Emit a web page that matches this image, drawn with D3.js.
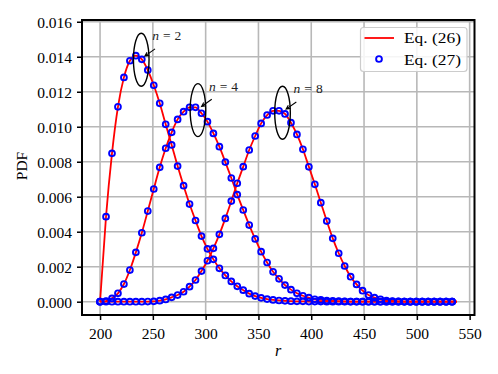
<!DOCTYPE html>
<html>
<head>
<meta charset="utf-8">
<script src="https://cdn.jsdelivr.net/npm/d3@7"></script>
<style>
  html, body { margin: 0; padding: 0; background: #fff; }
  svg { display: block; }
  text { font-family: "Liberation Serif", "DejaVu Serif", serif; }
</style>
</head>
<body>
<svg id="chart" width="498" height="374"></svg>
<script>
// ---------------- data ----------------
const rValues = [200.0, 205.65, 211.3, 216.95, 222.6, 228.25, 233.9, 239.55, 245.2, 250.85,
  256.5, 262.15, 267.8, 273.45, 279.1, 284.75, 290.4, 296.05, 301.7, 307.35,
  313.0, 318.65, 324.3, 329.95, 335.6, 341.25, 346.9, 352.55, 358.2, 363.85,
  369.5, 375.15, 380.8, 386.45, 392.1, 397.75, 403.4, 409.05, 414.7, 420.35,
  426.0, 431.65, 437.3, 442.95, 448.6, 454.25, 459.9, 465.55, 471.2, 476.85,
  482.5, 488.15, 493.8, 499.45, 505.1, 510.75, 516.4, 522.05, 527.7, 533.35];

const pdfN2 = [0, 0.00486, 0.00848, 0.01114, 0.01282, 0.01377, 0.01406, 0.01385, 0.01324, 0.01237,
  0.01134, 0.01014, 0.00896, 0.00775, 0.00663, 0.00558, 0.00464, 0.00375, 0.00302, 0.00242,
  0.00191, 0.00150, 0.00116, 0.00088, 0.00066, 0.00046, 0.00032, 0.00022, 0.00015, 0.00010,
  0.00007, 0.00005, 0.00003, 0.00002, 0.00002, 0.00001, 0.00001, 0.00001, 0, 0,
  0, 0, 0, 0, 0, 0, 0, 0, 0, 0,
  0, 0, 0, 0, 0, 0, 0, 0, 0, 0];

const pdfN4 = [0, 0.00004, 0.00019, 0.00048, 0.00101, 0.00181, 0.00282, 0.00394, 0.00518, 0.00644,
  0.00768, 0.00877, 0.00968, 0.01042, 0.01086, 0.01111, 0.01111, 0.01077, 0.01029, 0.00962,
  0.00886, 0.00798, 0.00707, 0.00612, 0.00524, 0.00438, 0.00359, 0.00286, 0.00224, 0.00171,
  0.00131, 0.00095, 0.00069, 0.00048, 0.00034, 0.00023, 0.00014, 0.00010, 0.00007, 0.00005,
  0.00003, 0.00002, 0.00001, 0.00001, 0, 0, 0, 0, 0, 0,
  0, 0, 0, 0, 0, 0, 0, 0, 0, 0];

const pdfN8 = [0, 0, 0, 0, 0, 0, 0, 0, 0.00001, 0.00002,
  0.00006, 0.00013, 0.00025, 0.00038, 0.00057, 0.00086, 0.00124, 0.00175, 0.00234, 0.00305,
  0.00385, 0.00476, 0.00575, 0.00677, 0.00772, 0.00867, 0.00947, 0.01019, 0.01067, 0.01091,
  0.01091, 0.01073, 0.01023, 0.00956, 0.00871, 0.00771, 0.00671, 0.00566, 0.00461, 0.00362,
  0.00277, 0.00204, 0.00143, 0.00099, 0.00063, 0.00038, 0.00023, 0.00014, 0.00007, 0.00004,
  0.00002, 0.00001, 0, 0, 0, 0, 0, 0, 0, 0];

// the red line runs slightly past the last marker
const lineEndR = 538;
const lineEndValue = 0;

const xTicks = [200, 250, 300, 350, 400, 450, 500, 550];
const yTicks = [0, 0.002, 0.004, 0.006, 0.008, 0.010, 0.012, 0.014, 0.016];

const annLabels = ["2", "4", "8"];
const annR = [239.0, 292.7, 372.8];
const annV = [0.01383, 0.01095, 0.01080];

const legendLabels = ["Eq. (26)", "Eq. (27)"];
const xLabel = "r";
const yLabel = "PDF";

// ---------------- layout ----------------
const svg = d3.select("#chart");
const L = 82, R = 474.5, T = 20, B = 315;

const x = d3.scaleLinear().domain([182.9, 554.6]).range([L, R]);
const y = d3.scaleLinear().domain([-0.00076, 0.0161]).range([B, T]);

const gridColor = "#b8b8b8";

// grid
const grid = svg.append("g");
grid.selectAll("line.gx").data(xTicks).join("line")
  .attr("x1", d => x(d)).attr("x2", d => x(d))
  .attr("y1", T).attr("y2", B)
  .attr("stroke", gridColor).attr("stroke-width", 1.6);
grid.selectAll("line.gy").data(yTicks).join("line")
  .attr("y1", d => y(d)).attr("y2", d => y(d))
  .attr("x1", L).attr("x2", R)
  .attr("stroke", gridColor).attr("stroke-width", 1.6);

// axes
const xAxis = d3.axisBottom(x).tickValues(xTicks).tickFormat(d3.format("d"))
  .tickSizeInner(5).tickSizeOuter(0).tickPadding(4);
const yAxis = d3.axisLeft(y).tickValues(yTicks).tickFormat(d3.format(".3f"))
  .tickSizeInner(5).tickSizeOuter(0).tickPadding(5);

const gx = svg.append("g").attr("transform", `translate(0,${B})`).call(xAxis);
const gy = svg.append("g").attr("transform", `translate(${L},0)`).call(yAxis);
[gx, gy].forEach(g => {
  g.select(".domain").remove();
  g.selectAll(".tick line").attr("stroke", "#000").attr("stroke-width", 1.5);
  g.selectAll(".tick text").attr("fill", "#000")
    .style("font-family", '"Liberation Serif", serif').style("font-size", "15.5px");
});
gx.selectAll(".tick text").attr("dy", "0.95em");
gy.selectAll(".tick text").attr("dy", "0.35em");

// series
const series = [pdfN2, pdfN4, pdfN8];
const lineR = rValues.concat([lineEndR]);
const line = d3.line()
  .x(d => x(d[0])).y(d => y(d[1]))
  .curve(d3.curveMonotoneX);

const plot = svg.append("g");
series.forEach(vals => {
  const pts = lineR.map((r, i) => [r, i < vals.length ? vals[i] : lineEndValue]);
  plot.append("path").datum(pts)
    .attr("d", line).attr("fill", "none")
    .attr("stroke", "#ff0000").attr("stroke-width", 1.8);
});
series.forEach(vals => {
  plot.append("g").selectAll("circle")
    .data(rValues.map((r, i) => [r, vals[i]]))
    .join("circle")
    .attr("cx", d => x(d[0])).attr("cy", d => y(d[1]))
    .attr("r", 2.9)
    .attr("fill", "none").attr("stroke", "#0000ff").attr("stroke-width", 1.9);
});

// annotations
const ann = svg.append("g");
annLabels.forEach((lab, i) => {
  const cx = x(annR[i]), cy = y(annV[i]);
  ann.append("ellipse").attr("cx", cx).attr("cy", cy)
    .attr("rx", 7.8).attr("ry", 26.5)
    .attr("fill", "none").attr("stroke", "#000").attr("stroke-width", 1.4);
  // arrow
  const x0 = cx + 13.8, y0 = cy - 10.8, x1 = cx + 3.6, y1 = cy - 3.6;
  const ang = Math.atan2(y1 - y0, x1 - x0);
  const hl = 4.5, ha = 0.45;
  ann.append("path")
    .attr("d", `M${x0},${y0}L${x1},${y1}` +
      `M${x1 - hl * Math.cos(ang - ha)},${y1 - hl * Math.sin(ang - ha)}L${x1},${y1}` +
      `L${x1 - hl * Math.cos(ang + ha)},${y1 - hl * Math.sin(ang + ha)}`)
    .attr("fill", "none").attr("stroke", "#000").attr("stroke-width", 1.1);
  const t = ann.append("text")
    .attr("x", cx + 11).attr("y", cy - 19.5)
    .style("font-size", "13.5px").attr("fill", "#222");
  t.append("tspan").style("font-style", "italic").text("n");
  t.append("tspan").attr("dx", 4).text("=");
  t.append("tspan").attr("dx", 4).text(lab);
});

// legend
const leg = svg.append("g");
leg.append("rect").attr("x", 360.5).attr("y", 27.5).attr("width", 106.5).attr("height", 44)
  .attr("rx", 3).attr("fill", "#fff").attr("fill-opacity", 0.85)
  .attr("stroke", "#cccccc").attr("stroke-width", 1.2);
leg.append("line").attr("x1", 364.5).attr("x2", 394).attr("y1", 38).attr("y2", 38)
  .attr("stroke", "#ff0000").attr("stroke-width", 1.8);
leg.append("circle").attr("cx", 379).attr("cy", 59).attr("r", 2.9)
  .attr("fill", "none").attr("stroke", "#0000ff").attr("stroke-width", 1.9);
legendLabels.forEach((lab, i) => {
  leg.append("text").attr("x", 404).attr("y", 38 + i * 21.3).attr("dy", "0.35em")
    .attr("textLength", 57).attr("lengthAdjust", "spacingAndGlyphs")
    .style("font-size", "15.5px").attr("fill", "#000").text(lab);
});

// frame
svg.append("rect").attr("x", L).attr("y", T).attr("width", R - L).attr("height", B - T)
  .attr("fill", "none").attr("stroke", "#000").attr("stroke-width", 2);

// axis labels
svg.append("text").attr("x", 278).attr("y", 350).attr("dy", "0.35em")
  .attr("text-anchor", "middle").style("font-style", "italic").style("font-size", "16px")
  .text(xLabel);
svg.append("text").attr("transform", "translate(22,166) rotate(-90)").attr("dy", "0.35em")
  .attr("text-anchor", "middle").style("font-size", "15.5px").text(yLabel);
</script>
</body>
</html>
